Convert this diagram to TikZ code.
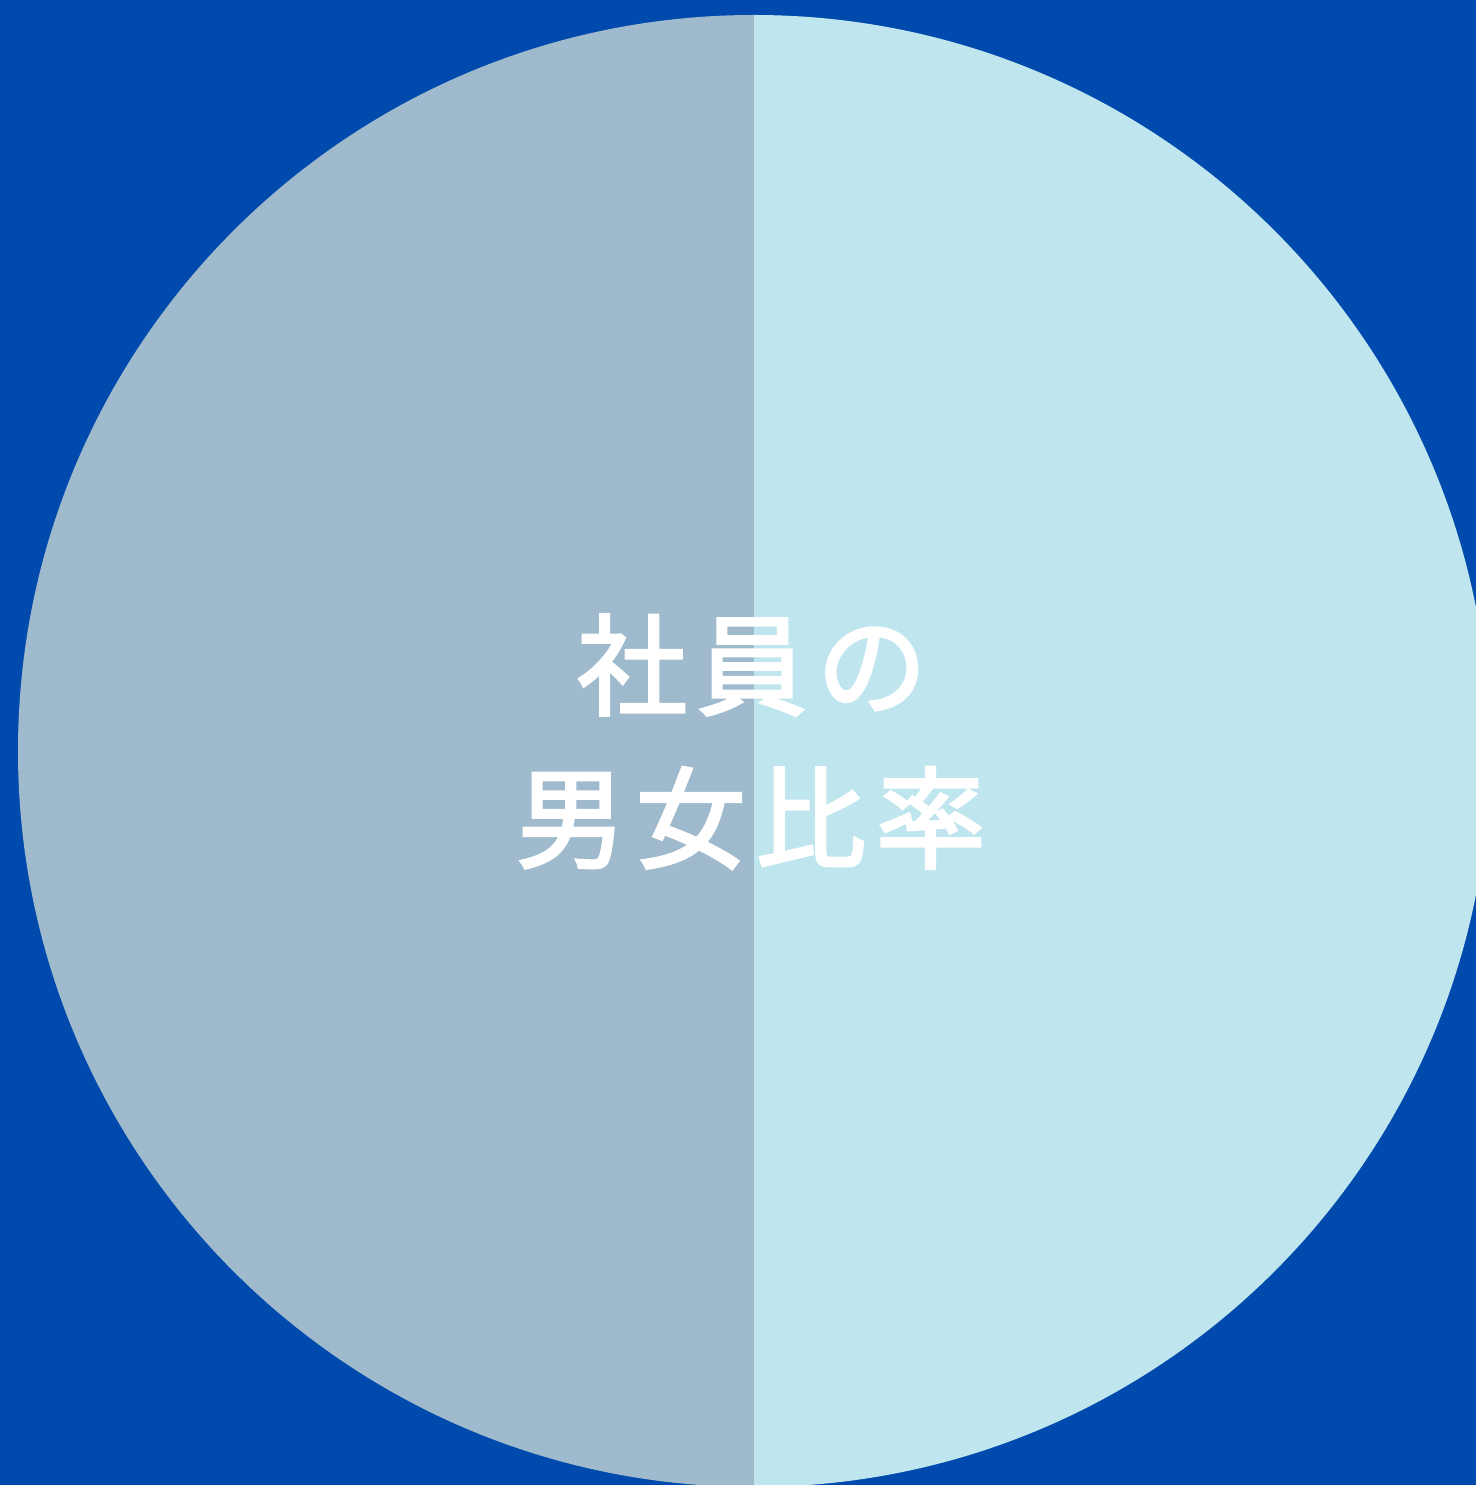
\documentclass[tikz,border=0pt]{standalone}
\usepackage{fontspec}
\newfontfamily\jpfont[LetterSpace=9,FakeBold=2.6]{Noto Sans CJK JP}
\definecolor{bgblue}{HTML}{004AAD}
\definecolor{leftc}{HTML}{9FBACC}
\definecolor{rightc}{HTML}{BFE5EE}
\tikzset{title/.style={text=white,inner sep=0pt,font=\jpfont\fontsize{55}{66}\selectfont}}
\begin{document}
\begin{tikzpicture}[x=0.5pt,y=0.5pt]
\useasboundingbox (0,0) rectangle (1476,1485);
\fill[bgblue] (0,0) rectangle (1476,1485);
\begin{scope}
\clip (0,0) rectangle (1476,1485);
\fill[leftc] (754,1470) arc[start angle=90,end angle=270,radius=736] -- cycle;
\fill[rightc] (754,1470) arc[start angle=90,end angle=-90,radius=736] -- cycle;
\end{scope}
\node[title] (t1) at (752,820) {社員の};
\node[title] (t2) at (751,667) {男女比率};
\end{tikzpicture}
\end{document}
